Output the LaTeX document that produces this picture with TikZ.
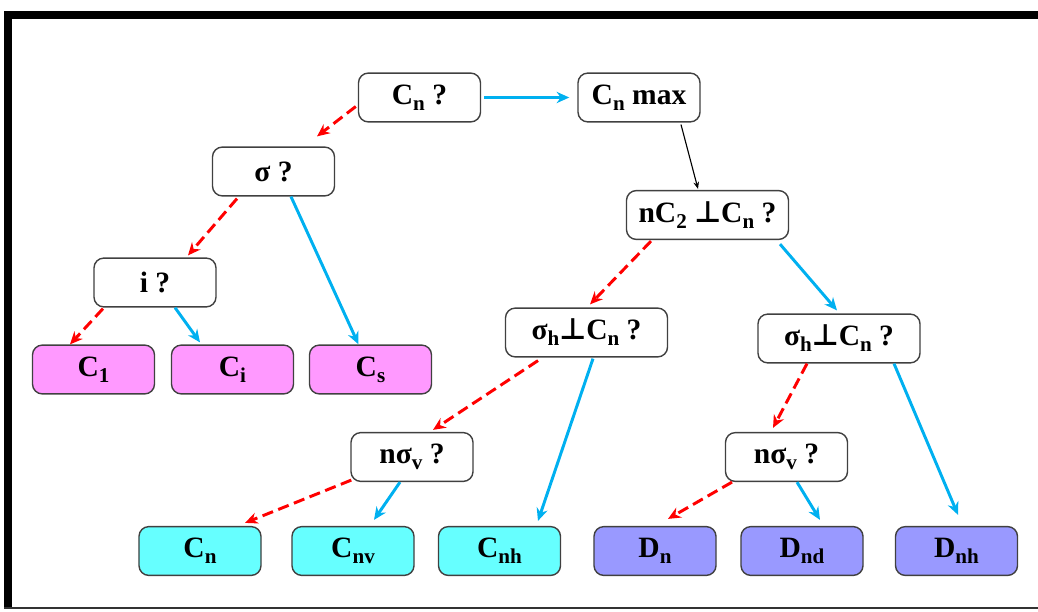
\documentclass[tikz,border=0pt]{standalone}
\usepackage{fontspec}
\setmainfont{Liberation Serif}
\newfontfamily\perpfont{DejaVu Sans}
\usetikzlibrary{shapes,arrows,arrows.meta,calc}
\definecolor{pinkfill}{HTML}{FF99FF}
\definecolor{cyanfill}{HTML}{66FFFF}
\definecolor{bluefill}{HTML}{9999FF}
\definecolor{skyline}{HTML}{00B0F0}
\definecolor{boxline}{HTML}{404040}
\newcommand{\lo}[1]{\raisebox{-0.45ex}{\fontsize{15}{15}\selectfont #1}}
\newcommand{\perpsym}{{\perpfont\bfseries ⊥}}

\begin{document}
\begin{tikzpicture}[x=0.025cm, y=-0.025cm, font=\fontsize{21}{24}\selectfont\bfseries]
\tikzstyle{query} = [rectangle, rounded corners=7pt, minimum width=3.05cm, minimum height=1.22cm, text centered, draw=boxline, line width=1pt, fill=white, inner sep=2pt]
\tikzstyle{widequery} = [query, minimum width=4.05cm]
\tikzstyle{lowgroup} = [query, fill=pinkfill]
\tikzstyle{cnvgroup} = [query, fill=cyanfill]
\tikzstyle{dgroup} = [query, fill=bluefill]
\tikzstyle{yesarrow} = [line width=2.1pt, skyline, -{Stealth[length=9pt,width=8pt]}]
\tikzstyle{noarrow} = [line width=2.1pt, red, dash pattern=on 8pt off 4pt, -{Stealth[length=9pt,width=8pt]}]
\tikzstyle{plainarrow} = [line width=0.8pt, black, -{Stealth[length=5pt,width=4pt]}]

\useasboundingbox (0,0) rectangle (1038,611);
\fill (4,11) rectangle (1038,19);
\fill (4,11) rectangle (12,609);
\fill [black!80] (4,607) rectangle (1038,609);

\node (cnq) [query] at (419.5,97.5) {C\lo{n} ?};
\node (cnmax) [query] at (639,97.5) {C\lo{n} max};
\node (sigq) [query] at (273.5,171.5) {σ ?};
\node (nc2) [widequery] at (707.5,215) {nC\lo{2} \perpsym C\lo{n} ?};
\node (iq) [query] at (155,282.5) {i ?};
\node (shl) [widequery] at (586.5,332.5) {σ\lo{h}\perpsym C\lo{n} ?};
\node (shr) [widequery] at (839,338.5) {σ\lo{h}\perpsym C\lo{n} ?};
\node (c1) [lowgroup] at (93.5,369.5) {C\lo{1}};
\node (ci) [lowgroup] at (232.5,369.5) {C\lo{i}};
\node (cs) [lowgroup] at (370.5,369.5) {C\lo{s}};
\node (nsl) [query] at (412,457) {nσ\lo{v} ?};
\node (nsr) [query] at (786.5,457) {nσ\lo{v} ?};
\node (cnb) [cnvgroup] at (200,551) {C\lo{n}};
\node (cnv) [cnvgroup] at (353,551) {C\lo{nv}};
\node (cnh) [cnvgroup] at (499.5,551) {C\lo{nh}};
\node (dn) [dgroup] at (655,551) {D\lo{n}};
\node (dnd) [dgroup] at (802,551) {D\lo{nd}};
\node (dnh) [dgroup] at (956.5,551) {D\lo{nh}};

\draw [yesarrow] ($(cnq.east)+(3,0)$) -- ($(cnmax.west)+(-8,0)$);
\draw [noarrow] ($(cnq.west)+(-2,9)$) -- ($(sigq.north)+(43.5,-10)$);
\draw [plainarrow] ($(cnmax.south)+(42,2)$) -- ($(nc2.north)+(-9.5,-1)$);
\draw [noarrow] ($(sigq.south)+(-36.5,2)$) -- ($(iq.north)+(33,-2)$);
\draw [yesarrow] ($(sigq.south)+(17.5,0)$) -- ($(cs.north)+(-12,0)$);
\draw [noarrow] ($(iq.south)+(-52,1)$) -- ($(c1.north)+(-23.5,0)$);
\draw [yesarrow] ($(iq.south)+(20,0)$) -- ($(ci.north)+(-32.5,-2)$);
\draw [noarrow] ($(nc2.south)+(-56.5,1)$) -- ($(shl.north)+(3.5,-3)$);
\draw [yesarrow] ($(nc2.south)+(72.5,4)$) -- ($(shr.north)+(-2,-3)$);
\draw [noarrow] ($(shl.south)+(-48.5,3)$) -- ($(nsl.north)+(21,-2)$);
\draw [yesarrow] ($(shl.south)+(6.5,1)$) -- ($(cnh.north)+(38.5,-5)$);
\draw [noarrow] ($(shr.south)+(-32,0)$) -- ($(nsr.north)+(-13.5,-4)$);
\draw [yesarrow] ($(shr.south)+(55,0)$) -- ($(dnh.north)+(1.5,-11)$);
\draw [noarrow] ($(nsl.south west)+(1,-2)$) -- ($(cnb.north)+(45,-3)$);
\draw [yesarrow] ($(nsl.south)+(-12,0)$) -- ($(cnv.north)+(21,-6)$);
\draw [noarrow] ($(nsr.south)+(-54.5,0)$) -- ($(dn.north)+(13,-7)$);
\draw [yesarrow] ($(nsr.south)+(10.5,0)$) -- ($(dnd.north)+(18,-6)$);

\end{tikzpicture}
\end{document}
